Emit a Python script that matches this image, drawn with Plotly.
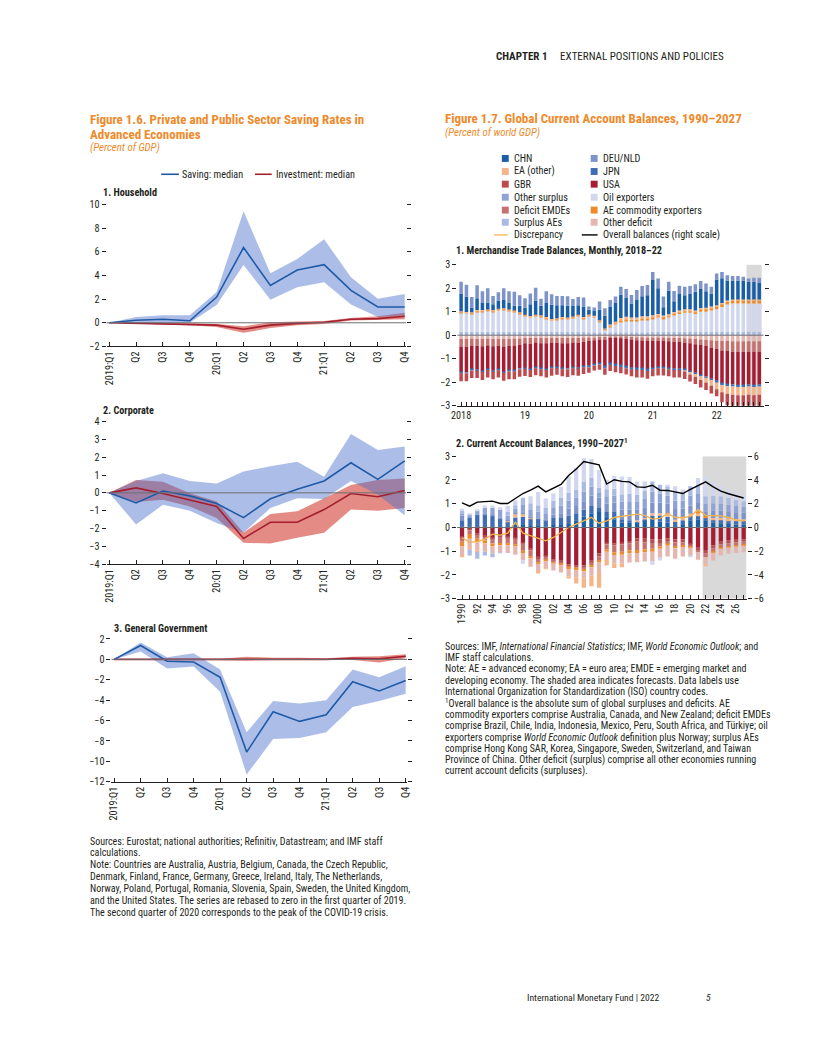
import plotly.graph_objects as go

# The page body keeps the browser's default 8 px margin, so the figure is drawn 8 px in
# from the top-left corner; positions below are given in page pixels and converted.
OFF = 8
W, H = 800, 1036
def fx(px):
    return (px - OFF) / W
def fy(py):
    return 1 - (py - OFF) / H

FONT = "Liberation Sans Narrow, Roboto Condensed, DejaVu Sans Condensed, Arial Narrow, sans-serif"
ORANGE = "#EE8A2A"
TXT = "#231F20"
GRAY0 = "#6D6E71"

# ---------------- Figure 1.6 data ----------------
quarters = ["2019:Q1", "Q2", "Q3", "Q4", "20:Q1", "Q2", "Q3", "Q4", "21:Q1", "Q2", "Q3", "Q4"]

hh_sav_med = [0, 0.22, 0.30, 0.17, 2.18, 6.37, 3.16, 4.47, 4.92, 2.74, 1.34, 1.34]
hh_sav_hi = [0, 0.50, 0.64, 0.64, 2.60, 9.44, 4.20, 5.40, 7.07, 3.85, 2.04, 2.43]
hh_sav_lo = [0, -0.10, -0.08, 0.00, 1.50, 4.90, 1.95, 3.00, 3.44, 1.54, 0.50, 0.64]
hh_inv_med = [0, -0.05, -0.08, -0.12, -0.20, -0.55, -0.20, -0.05, 0.05, 0.30, 0.35, 0.55]
hh_inv_hi = [0, 0.02, 0.00, -0.03, -0.10, -0.30, 0.05, 0.10, 0.15, 0.40, 0.55, 0.85]
hh_inv_lo = [0, -0.10, -0.15, -0.20, -0.35, -0.85, -0.45, -0.20, -0.10, 0.20, 0.25, 0.30]

co_sav_med = [0, -0.57, 0.10, -0.17, -0.60, -1.39, -0.33, 0.20, 0.67, 1.69, 0.76, 1.80]
co_sav_hi = [0, 0.67, 1.10, 0.67, 0.52, 1.20, 1.50, 1.74, 0.90, 3.30, 2.40, 2.60]
co_sav_lo = [0, -1.78, -0.67, -1.00, -1.69, -2.24, -0.85, -0.31, -0.35, 0.67, -0.10, -1.26]
co_inv_med = [0, 0.28, -0.04, -0.39, -0.76, -2.56, -1.65, -1.65, -0.94, -0.04, -0.22, 0.13]
co_inv_hi = [0, 0.72, 0.63, -0.02, -0.48, -2.24, -1.19, -1.04, -0.30, 0.44, 0.72, 0.81]
co_inv_lo = [0, -0.52, -0.39, -0.76, -1.41, -2.80, -2.85, -2.52, -2.24, -0.94, -1.00, -0.85]

gg_sav_med = [0, 1.36, -0.19, -0.26, -1.75, -9.09, -5.14, -6.08, -5.43, -2.20, -3.10, -2.07]
gg_sav_hi = [0, 1.65, 0.20, 0.61, -1.00, -7.15, -4.07, -4.33, -4.00, -1.00, -1.75, -0.68]
gg_sav_lo = [0, 0.78, -0.90, -0.71, -3.17, -11.30, -7.82, -7.72, -7.15, -4.66, -4.07, -3.36]
gg_inv_med = [0, 0.00, 0.00, 0.00, 0.00, 0.00, 0.05, 0.05, 0.00, 0.10, 0.05, 0.30]
gg_inv_hi = [0, 0.05, 0.05, 0.05, 0.05, 0.25, 0.15, 0.15, 0.10, 0.25, 0.30, 0.50]
gg_inv_lo = [0, -0.05, -0.05, -0.05, -0.10, -0.10, -0.05, -0.05, -0.10, -0.05, -0.30, 0.10]

# ---------------- Figure 1.7 panel 1 data (monthly, Jan 2018 - Sep 2022) ----------------
month_labels = ["2018", "", "", "", "", "", "", "", "", "", "", "",
                "19", "", "", "", "", "", "", "", "", "", "", "",
                "20", "", "", "", "", "", "", "", "", "", "", "",
                "21", "", "", "", "", "", "", "", "", "", "", "",
                "22", "", "", "", "", "", "", "", ""]

m_surplus_aes = [0.15, 0.15, 0.15, 0.15, 0.15, 0.15, 0.15, 0.15, 0.15, 0.15, 0.15, 0.15,
                 0.15, 0.15, 0.15, 0.15, 0.15, 0.15, 0.15, 0.15, 0.15, 0.15, 0.15, 0.15,
                 0.12, 0.12, 0.12, 0.12, 0.12, 0.12, 0.12, 0.12, 0.12, 0.12, 0.12, 0.12,
                 0.15, 0.15, 0.15, 0.15, 0.15, 0.15, 0.15, 0.15, 0.15, 0.15, 0.15, 0.15,
                 0.15, 0.15, 0.15, 0.15, 0.15, 0.15, 0.15, 0.15, 0.15]
m_oil = [0.80, 0.77, 0.75, 0.85, 0.85, 0.87, 0.85, 0.90, 0.93, 0.87, 0.83, 0.75,
         0.65, 0.60, 0.65, 0.63, 0.55, 0.47, 0.50, 0.55, 0.53, 0.57, 0.65, 0.55,
         0.68, 0.63, 0.43, 0.08, 0.23, 0.33, 0.43, 0.48, 0.48, 0.48, 0.53, 0.53,
         0.55, 0.60, 0.55, 0.60, 0.70, 0.75, 0.80, 0.80, 0.75, 0.85, 0.85, 0.90,
         0.95, 1.05, 1.15, 1.20, 1.20, 1.20, 1.20, 1.20, 1.20]
m_aecomm_pos = [0.04, 0.04, 0.04, 0.04, 0.04, 0.04, 0.04, 0.04, 0.04, 0.04, 0.04, 0.04,
                0.04, 0.04, 0.04, 0.04, 0.04, 0.04, 0.04, 0.04, 0.04, 0.04, 0.04, 0.04,
                0.04, 0.04, 0.04, 0.04, 0.05, 0.06, 0.08, 0.08, 0.07, 0.07, 0.07, 0.07,
                0.08, 0.08, 0.08, 0.08, 0.08, 0.09, 0.09, 0.09, 0.09, 0.10, 0.11, 0.11,
                0.13, 0.13, 0.13, 0.13, 0.13, 0.13, 0.13, 0.13, 0.13]
m_ea_pos = [0.03, 0.03, 0.03, 0.03, 0.03, 0.03, 0.03, 0.03, 0.03, 0.03, 0.03, 0.03,
            0.03, 0.03, 0.03, 0.03, 0.03, 0.03, 0.03, 0.03, 0.03, 0.03, 0.03, 0.03,
            0.04, 0.04, 0.04, 0.04, 0.05, 0.06, 0.10, 0.10, 0.08, 0.08, 0.08, 0.08,
            0.07, 0.07, 0.06, 0.06, 0.06, 0.06, 0.06, 0.06, 0.06, 0.06, 0.06, 0.06,
            0.04, 0.04, 0.04, 0.04, 0.04, 0.04, 0.04, 0.04, 0.04]
m_chn = [0.75, 0.65, 0.20, 0.50, 0.30, 0.30, 0.25, 0.35, 0.35, 0.28, 0.20, 0.28,
         0.30, 0.50, 0.60, 0.40, 0.60, 0.60, 0.55, 0.50, 0.50, 0.45, 0.40, 0.45,
         0.20, 0.20, 0.45, 0.55, 0.75, 0.80, 1.00, 0.80, 0.60, 0.75, 0.85, 0.90,
         1.50, 1.10, 0.35, 1.00, 0.45, 0.70, 0.60, 0.65, 0.80, 0.80, 0.70, 0.55,
         1.10, 1.05, 0.85, 0.80, 0.80, 0.80, 0.75, 0.75, 0.72]
m_deu = [0.50, 0.50, 0.45, 0.55, 0.50, 0.60, 0.35, 0.35, 0.50, 0.50, 0.60, 0.45,
         0.40, 0.45, 0.55, 0.30, 0.50, 0.45, 0.40, 0.40, 0.40, 0.30, 0.35, 0.38,
         0.14, 0.15, 0.35, 0.32, 0.30, 0.27, 0.33, 0.38, 0.36, 0.42, 0.44, 0.43,
         0.34, 0.41, 0.45, 0.38, 0.44, 0.35, 0.36, 0.34, 0.31, 0.34, 0.33, 0.29,
         0.25, 0.27, 0.23, 0.20, 0.20, 0.16, 0.14, 0.17, 0.20]
m_other_def = [-0.15, -0.16, -0.14, -0.15, -0.15, -0.14, -0.15, -0.15, -0.16, -0.15, -0.14, -0.14,
               -0.12, -0.12, -0.11, -0.12, -0.12, -0.11, -0.12, -0.12, -0.12, -0.11, -0.12, -0.10,
               -0.10, -0.10, -0.08, -0.08, -0.07, -0.07, -0.07, -0.08, -0.08, -0.09, -0.09, -0.10,
               -0.10, -0.10, -0.10, -0.11, -0.12, -0.12, -0.13, -0.14, -0.16, -0.18, -0.20, -0.22,
               -0.24, -0.25, -0.25, -0.26, -0.26, -0.26, -0.26, -0.26, -0.26]
m_def_emde = [-0.33, -0.33, -0.30, -0.30, -0.32, -0.30, -0.32, -0.30, -0.32, -0.30, -0.30, -0.28,
              -0.22, -0.24, -0.20, -0.22, -0.22, -0.20, -0.20, -0.22, -0.22, -0.20, -0.20, -0.18,
              -0.15, -0.12, -0.10, -0.10, -0.05, -0.05, -0.06, -0.08, -0.10, -0.12, -0.14, -0.15,
              -0.15, -0.14, -0.14, -0.15, -0.16, -0.16, -0.18, -0.20, -0.22, -0.24, -0.26, -0.30,
              -0.35, -0.40, -0.42, -0.44, -0.44, -0.44, -0.44, -0.44, -0.44]
m_usa = [-1.10, -1.10, -1.02, -1.02, -1.05, -1.00, -1.04, -1.00, -1.08, -1.05, -1.05, -1.00,
         -1.05, -1.08, -1.05, -1.07, -1.10, -1.06, -1.03, -1.07, -1.08, -1.05, -1.06, -1.04,
         -1.05, -1.00, -1.00, -1.15, -1.08, -1.12, -1.15, -1.17, -1.20, -1.20, -1.18, -1.20,
         -1.15, -1.12, -1.12, -1.14, -1.15, -1.15, -1.15, -1.20, -1.22, -1.28, -1.30, -1.33,
         -1.35, -1.40, -1.42, -1.40, -1.42, -1.42, -1.40, -1.42, -1.40]
m_jpn_neg = [-0.04, -0.04, -0.04, -0.04, -0.04, -0.04, -0.04, -0.04, -0.04, -0.04, -0.04, -0.04,
             -0.04, -0.04, -0.04, -0.04, -0.04, -0.04, -0.04, -0.04, -0.04, -0.04, -0.04, -0.04,
             -0.07, -0.07, -0.07, -0.07, -0.07, -0.07, -0.07, -0.07, -0.07, -0.07, -0.07, -0.07,
             -0.05, -0.05, -0.05, -0.05, -0.05, -0.05, -0.05, -0.05, -0.05, -0.05, -0.05, -0.05,
             -0.08, -0.08, -0.08, -0.08, -0.08, -0.08, -0.08, -0.08, -0.08]
m_ea_neg = [0, 0, 0, 0, 0, 0, 0, 0, 0, 0, 0, 0,
            0, 0, 0, 0, 0, 0, 0, 0, 0, 0, 0, 0,
            0, 0, 0, 0, 0, 0, 0, 0, 0, 0, 0, 0,
            0, 0, 0, 0, 0, 0, -0.03, -0.08, -0.12, -0.15, -0.20, -0.25,
            -0.28, -0.30, -0.32, -0.35, -0.35, -0.35, -0.35, -0.35, -0.35]
m_gbr = [-0.34, -0.33, -0.32, -0.31, -0.34, -0.32, -0.32, -0.31, -0.34, -0.33, -0.34, -0.31,
         -0.30, -0.30, -0.30, -0.30, -0.32, -0.31, -0.29, -0.30, -0.32, -0.30, -0.30, -0.29,
         -0.23, -0.21, -0.22, -0.28, -0.25, -0.26, -0.27, -0.27, -0.30, -0.32, -0.32, -0.33,
         -0.30, -0.30, -0.30, -0.30, -0.32, -0.32, -0.32, -0.30, -0.30, -0.32, -0.32, -0.33,
         -0.30, -0.42, -0.50, -0.60, -0.60, -0.60, -0.60, -0.60, -0.60]

# ---------------- Figure 1.7 panel 2 data (annual, 1990-2027) ----------------
years = [1990, 1991, 1992, 1993, 1994, 1995, 1996, 1997, 1998, 1999,
         2000, 2001, 2002, 2003, 2004, 2005, 2006, 2007, 2008, 2009,
         2010, 2011, 2012, 2013, 2014, 2015, 2016, 2017, 2018, 2019,
         2020, 2021, 2022, 2023, 2024, 2025, 2026, 2027]
year_labels = ["1990", "", "92", "", "94", "", "96", "", "98", "",
               "2000", "", "02", "", "04", "", "06", "", "08", "",
               "10", "", "12", "", "14", "", "16", "", "18", "",
               "20", "", "22", "", "24", "", "26", ""]

ca_chn = [0.05, 0.05, 0.03, 0.00, 0.03, 0.03, 0.03, 0.12, 0.10, 0.06,
          0.06, 0.05, 0.10, 0.10, 0.15, 0.30, 0.45, 0.60, 0.65, 0.40,
          0.35, 0.20, 0.20, 0.20, 0.30, 0.40, 0.25, 0.20, 0.03, 0.10,
          0.30, 0.35, 0.30, 0.20, 0.18, 0.15, 0.13, 0.12]
ca_jpn = [0.25, 0.35, 0.50, 0.55, 0.45, 0.35, 0.20, 0.30, 0.35, 0.30,
          0.30, 0.25, 0.30, 0.30, 0.35, 0.30, 0.30, 0.30, 0.20, 0.25,
          0.30, 0.15, 0.10, 0.05, 0.05, 0.10, 0.25, 0.25, 0.20, 0.20,
          0.18, 0.15, 0.10, 0.12, 0.15, 0.15, 0.15, 0.15]
ca_ea_pos = [0, 0, 0, 0, 0, 0, 0.05, 0.15, 0.12, 0.05,
             0, 0, 0, 0, 0, 0, 0, 0, 0, 0,
             0, 0, 0, 0.05, 0.05, 0.10, 0.10, 0.10, 0.10, 0.10,
             0.10, 0.08, 0, 0.08, 0.08, 0.08, 0.08, 0.08]
ca_aecomm_pos = [0, 0, 0, 0, 0, 0, 0, 0, 0, 0,
                 0, 0, 0, 0, 0, 0, 0, 0, 0, 0,
                 0, 0, 0, 0, 0, 0, 0, 0, 0, 0,
                 0, 0.10, 0.08, 0, 0, 0, 0, 0]
ca_deu = [0.20, 0.00, 0.02, 0.05, 0.05, 0.05, 0.05, 0.05, 0.05, 0.05,
          0.02, 0.05, 0.15, 0.20, 0.30, 0.30, 0.35, 0.45, 0.40, 0.35,
          0.40, 0.40, 0.45, 0.45, 0.45, 0.45, 0.45, 0.45, 0.45, 0.40,
          0.35, 0.35, 0.20, 0.30, 0.30, 0.30, 0.28, 0.27]
ca_other_surplus = [0.10, 0.15, 0.16, 0.23, 0.30, 0.32, 0.17, 0.17, 0.33, 0.28,
                    0.28, 0.25, 0.30, 0.33, 0.33, 0.35, 0.42, 0.38, 0.23, 0.31,
                    0.30, 0.33, 0.35, 0.32, 0.35, 0.45, 0.38, 0.35, 0.36, 0.33,
                    0.42, 0.38, 0.33, 0.32, 0.30, 0.29, 0.26, 0.24]
ca_surplus_aes = [0.09, 0, 0, 0, 0, 0, 0.15, 0.15, 0.30, 0.28,
                  0.28, 0.22, 0.28, 0.33, 0.32, 0.35, 0.40, 0.35, 0.20, 0.30,
                  0.28, 0.32, 0.33, 0.32, 0.34, 0.44, 0.37, 0.35, 0.35, 0.32,
                  0.39, 0.37, 0.30, 0.32, 0.30, 0.28, 0.26, 0.24]
ca_oil_pos = [0.10, 0.05, 0.05, 0.10, 0.10, 0.10, 0.25, 0.20, 0, 0.30,
              0.55, 0.40, 0.30, 0.45, 0.70, 0.90, 1.00, 0.80, 0.75, 0.40,
              0.55, 0.75, 0.70, 0.55, 0.40, 0, 0, 0.10, 0.25, 0.15,
              0, 0.30, 0.85, 0.60, 0.45, 0.35, 0.30, 0.25]

ca_usa = [-0.40, -0.05, -0.25, -0.35, -0.45, -0.35, -0.40, -0.45, -0.65, -0.90,
          -1.25, -1.20, -1.35, -1.40, -1.55, -1.60, -1.60, -1.40, -1.10, -0.65,
          -0.68, -0.65, -0.57, -0.45, -0.47, -0.50, -0.50, -0.45, -0.50, -0.50,
          -0.70, -0.85, -0.95, -0.75, -0.60, -0.55, -0.52, -0.50]
ca_gbr = [-0.08, -0.07, -0.07, -0.05, -0.04, -0.05, -0.03, -0.02, -0.03, -0.07,
          -0.08, -0.07, -0.07, -0.10, -0.10, -0.08, -0.10, -0.10, -0.12, -0.07,
          -0.08, -0.07, -0.10, -0.15, -0.15, -0.15, -0.15, -0.12, -0.13, -0.12,
          -0.08, -0.10, -0.15, -0.13, -0.12, -0.11, -0.10, -0.10]
ca_def_emde = [-0.12, -0.15, -0.15, -0.15, -0.18, -0.25, -0.25, -0.25, -0.30, -0.25,
               -0.15, -0.10, -0.05, -0.03, -0.02, -0.02, -0.04, -0.08, -0.15, -0.20,
               -0.28, -0.30, -0.30, -0.35, -0.30, -0.25, -0.15, -0.13, -0.18, -0.15,
               -0.05, -0.10, -0.15, -0.15, -0.15, -0.15, -0.15, -0.14]
ca_aecomm_neg = [-0.20, -0.20, -0.15, -0.12, -0.12, -0.10, -0.07, -0.08, -0.10, -0.08,
                 -0.05, -0.05, -0.04, -0.05, -0.08, -0.10, -0.10, -0.10, -0.10, -0.10,
                 -0.12, -0.13, -0.12, -0.13, -0.12, -0.12, -0.10, -0.07, -0.07, -0.05,
                 -0.02, 0, 0, -0.03, -0.03, -0.03, -0.03, -0.03]
ca_other_def = [-0.40, -0.35, -0.35, -0.35, -0.30, -0.30, -0.33, -0.35, -0.30, -0.35,
                -0.35, -0.30, -0.30, -0.32, -0.30, -0.30, -0.30, -0.35, -0.45, -0.35,
                -0.35, -0.37, -0.38, -0.38, -0.39, -0.40, -0.37, -0.45, -0.44, -0.40,
                -0.35, -0.31, -0.30, -0.33, -0.28, -0.27, -0.27, -0.27]
ca_ea_neg = [-0.05, -0.10, -0.05, 0, 0, 0, 0, 0, 0, 0,
             -0.06, -0.02, 0, 0, -0.10, -0.26, -0.40, -0.44, -0.62, -0.23,
             -0.20, -0.15, 0, 0, 0, 0, 0, 0, 0, 0,
             0, 0, -0.08, 0, 0, 0, 0, 0]
ca_surplus_aes_neg = [0, -0.26, -0.30, -0.16, -0.16, -0.03, 0, 0, 0, 0,
                      0, 0, 0, 0, 0, 0, 0, 0, 0, 0,
                      0, 0, 0, 0, 0, 0, 0, 0, 0, 0,
                      0, 0, 0, 0, 0, 0, 0, 0]
ca_oil_neg = [0, 0, 0, 0, 0, 0, 0, 0, -0.15, 0,
              0, 0, 0, 0, 0, 0, 0, 0, 0, 0,
              0, 0, 0, 0, 0, -0.15, -0.12, 0, 0, 0,
              -0.05, 0, 0, 0, 0, 0, 0, 0]

ca_discrepancy = [-0.42, -0.63, -0.60, -0.49, -0.28, -0.32, -0.24, 0.22, -0.24, -0.35,
                  -0.46, -0.56, -0.42, -0.21, 0.00, 0.14, 0.28, 0.42, 0.18, 0.28,
                  0.42, 0.46, 0.51, 0.56, 0.51, 0.35, 0.38, 0.60, 0.42, 0.42,
                  0.46, 0.76, 0.51, 0.51, 0.49, 0.42, 0.32, 0.28]
ca_overall = [2.08, 1.80, 2.14, 2.20, 2.22, 2.02, 2.02, 2.44, 2.86, 3.14,
              3.48, 3.00, 3.34, 3.62, 4.38, 4.92, 5.56, 5.42, 5.28, 3.66,
              4.02, 3.88, 3.84, 3.42, 3.38, 3.56, 3.14, 3.12, 2.98, 2.86,
              3.20, 3.52, 3.84, 3.42, 3.06, 2.84, 2.64, 2.48]

# ---------------- colours ----------------
C = {
    "CHN": "#1A5EA8", "DEU/NLD": "#7D93C9", "EA (other)": "#F6B489", "JPN": "#3F6DB5",
    "GBR": "#BE4A4E", "USA": "#A51D33", "Other surplus": "#8FA3D6", "Oil exporters": "#D0D7EE",
    "Deficit EMDEs": "#C7716E", "AE commodity exporters": "#EF8A2C", "Surplus AEs": "#AABAE2",
    "Other deficit": "#E5B6AF", "Discrepancy": "#F2B54C",
}
BLUE_LINE = "#1F5AA6"
RED_LINE = "#A51E2E"
BLUE_BAND = "rgba(70,110,205,0.45)"
RED_BAND = "rgba(215,90,80,0.70)"

fig = go.Figure()

# ---------------- Figure 1.6 panels ----------------
xq = list(range(len(quarters)))
panels = [
    ("x", "y", hh_sav_med, hh_sav_hi, hh_sav_lo, hh_inv_med, hh_inv_hi, hh_inv_lo),
    ("x2", "y2", co_sav_med, co_sav_hi, co_sav_lo, co_inv_med, co_inv_hi, co_inv_lo),
    ("x3", "y3", gg_sav_med, gg_sav_hi, gg_sav_lo, gg_inv_med, gg_inv_hi, gg_inv_lo),
]
for xa, ya, sm, sh, sl, im, ih, il in panels:
    fig.add_trace(go.Scatter(x=xq, y=il, mode="lines", line=dict(width=0), xaxis=xa, yaxis=ya,
                             showlegend=False, hoverinfo="skip"))
    fig.add_trace(go.Scatter(x=xq, y=ih, mode="lines", line=dict(width=0), fill="tonexty",
                             fillcolor=RED_BAND, xaxis=xa, yaxis=ya, showlegend=False, hoverinfo="skip"))
    fig.add_trace(go.Scatter(x=xq, y=sl, mode="lines", line=dict(width=0), xaxis=xa, yaxis=ya,
                             showlegend=False, hoverinfo="skip"))
    fig.add_trace(go.Scatter(x=xq, y=sh, mode="lines", line=dict(width=0), fill="tonexty",
                             fillcolor=BLUE_BAND, xaxis=xa, yaxis=ya, showlegend=False, hoverinfo="skip"))
    fig.add_trace(go.Scatter(x=xq, y=im, mode="lines", line=dict(color=RED_LINE, width=1.6),
                             xaxis=xa, yaxis=ya, showlegend=False))
    fig.add_trace(go.Scatter(x=xq, y=sm, mode="lines", line=dict(color=BLUE_LINE, width=1.6),
                             xaxis=xa, yaxis=ya, showlegend=False))

# ---------------- Figure 1.7 panel 1: merchandise ----------------
xm = list(range(len(month_labels)))
merch = [
    (m_surplus_aes, "Surplus AEs"), (m_oil, "Oil exporters"), (m_aecomm_pos, "AE commodity exporters"),
    (m_ea_pos, "EA (other)"), (m_chn, "CHN"), (m_deu, "DEU/NLD"),
    (m_other_def, "Other deficit"), (m_def_emde, "Deficit EMDEs"), (m_usa, "USA"),
    (m_jpn_neg, "JPN"), (m_ea_neg, "EA (other)"), (m_gbr, "GBR"),
]
for vals, name in merch:
    fig.add_trace(go.Bar(x=xm, y=vals, name=name, marker=dict(color=C[name], line=dict(width=0)),
                         width=0.66, xaxis="x4", yaxis="y4", showlegend=False))

# ---------------- Figure 1.7 panel 2: current account ----------------
ca = [
    (ca_chn, "CHN"), (ca_jpn, "JPN"), (ca_ea_pos, "EA (other)"), (ca_aecomm_pos, "AE commodity exporters"),
    (ca_deu, "DEU/NLD"), (ca_other_surplus, "Other surplus"), (ca_surplus_aes, "Surplus AEs"),
    (ca_oil_pos, "Oil exporters"),
    (ca_usa, "USA"), (ca_gbr, "GBR"), (ca_def_emde, "Deficit EMDEs"), (ca_aecomm_neg, "AE commodity exporters"),
    (ca_other_def, "Other deficit"), (ca_ea_neg, "EA (other)"), (ca_surplus_aes_neg, "Surplus AEs"),
    (ca_oil_neg, "Oil exporters"),
]
for vals, name in ca:
    fig.add_trace(go.Bar(x=years, y=vals, name=name, marker=dict(color=C[name], line=dict(width=0)),
                         width=0.56, xaxis="x5", yaxis="y5", showlegend=False))
fig.add_trace(go.Scatter(x=years, y=ca_discrepancy, mode="lines", line=dict(color=C["Discrepancy"], width=1.3),
                         xaxis="x5", yaxis="y5", showlegend=False))
fig.add_trace(go.Scatter(x=years, y=ca_overall, mode="lines", line=dict(color="black", width=1.4),
                         xaxis="x5", yaxis="y6", showlegend=False))

# ---------------- axes ----------------
tickfont = dict(family=FONT, size=10.2, color=TXT)

def yax(domain, rng, vals, anchor):
    return dict(domain=domain, range=rng, tickvals=vals, ticks="outside", ticklen=4, tickwidth=1,
                tickcolor=TXT, mirror="ticks", showline=False, showgrid=False, zeroline=False,
                tickfont=tickfont, anchor=anchor, fixedrange=True)

def xax(domain, rng, vals, text, anchor, angle):
    return dict(domain=domain, range=rng, tickvals=vals, ticktext=text, tickangle=angle, ticks="inside",
                ticklen=4, tickwidth=1, tickcolor=TXT, showline=True, linecolor=TXT, linewidth=1,
                showgrid=False, zeroline=False, tickfont=tickfont, anchor=anchor, fixedrange=True)

fig.update_layout(
    width=W, height=H, margin=dict(l=0, r=0, t=0, b=0),
    paper_bgcolor="white", plot_bgcolor="rgba(0,0,0,0)",
    barmode="relative", showlegend=False, font=dict(family=FONT, color=TXT),
    xaxis=xax([fx(101.7), fx(405)], [-0.1, 11.05], xq, quarters, "y", -90),
    yaxis=yax([fy(345), fy(201.7)], [-2, 10], [-2, 0, 2, 4, 6, 8, 10], "x"),
    xaxis2=xax([fx(101.7), fx(405)], [-0.1, 11.05], xq, quarters, "y2", -90),
    yaxis2=yax([fy(565), fy(421)], [-4, 4], [-4, -3, -2, -1, 0, 1, 2, 3, 4], "x2"),
    xaxis3=xax([fx(106.7), fx(406)], [-0.1, 11.05], xq, quarters, "y3", -90),
    yaxis3=yax([fy(785), fy(640.7)], [-12, 2], [-12, -10, -8, -6, -4, -2, 0, 2], "x3"),
    xaxis4=xax([fx(457), fx(767)], [-0.7, 56.8], xm, month_labels, "y4", 0),
    yaxis4=yax([fy(405), fy(262.3)], [-3, 3], [-3, -2, -1, 0, 1, 2, 3], "x4"),
    xaxis5=xax([fx(456.7), fx(750)], [1989.35, 2027.4], years, year_labels, "y5", -90),
    yaxis5=yax([fy(600), fy(456)], [-3, 3], [-3, -2, -1, 0, 1, 2, 3], "x5"),
    yaxis6=dict(overlaying="y5", side="right", range=[-6, 6], tickvals=[-6, -4, -2, 0, 2, 4, 6],
                ticks="outside", ticklen=4, tickwidth=1, tickcolor=TXT, showline=False, showgrid=False,
                zeroline=False, tickfont=tickfont, anchor="x5", fixedrange=True),
)
fig.update_layout(yaxis5=dict(mirror=False))

# forecast shading
fig.add_shape(type="rect", xref="x4", yref="y4", x0=53.6, x1=56.45, y0=-3, y1=3,
              fillcolor="#D9D9D9", line=dict(width=0), layer="below")
fig.add_shape(type="rect", xref="x5", yref="y5", x0=2021.6, x1=2027.35, y0=-3, y1=3,
              fillcolor="#D9D9D9", line=dict(width=0), layer="below")

# zero lines drawn over the marks
for xr, yr in [("x", "y"), ("x2", "y2"), ("x3", "y3"), ("x4", "y4"), ("x5", "y5")]:
    fig.add_shape(type="line", xref=xr + " domain", yref=yr, x0=0, x1=1, y0=0, y1=0,
                  line=dict(color=GRAY0, width=1), layer="above")

# ---------------- text ----------------
def ann(text, x, y, size=9, color=TXT, xanchor="left", yanchor="middle", bold=False, italic=False):
    if bold:
        text = "<b>" + text + "</b>"
    if italic:
        text = "<i>" + text + "</i>"
    fig.add_annotation(text=text, x=fx(x), y=fy(y), xref="paper", yref="paper", showarrow=False,
                       xanchor=xanchor, yanchor=yanchor, align="left", borderpad=0,
                       font=dict(family=FONT, size=size, color=color))

# header / footer
ann("<b>CHAPTER 1</b>     EXTERNAL POSITIONS AND POLICIES", 728, 52, size=11, xanchor="right")
ann("International Monetary Fund | 2022", 662, 1003, size=9.6, xanchor="right")
ann("5", 711, 1003, size=9.6, italic=True, xanchor="center")

# Figure 1.6 titles
ann("Figure 1.6. Private and Public Sector Saving Rates in", 84, 116, size=13, color=ORANGE, bold=True)
ann("Advanced Economies", 84, 130.5, size=13, color=ORANGE, bold=True)
ann("(Percent of GDP)", 84, 143.5, size=10.8, color=ORANGE, italic=True)

# Figure 1.6 legend
fig.add_shape(type="line", xref="paper", yref="paper", x0=fx(157), x1=fx(175), y0=fy(171), y1=fy(171),
              line=dict(color=BLUE_LINE, width=1.6))
ann("Saving: median", 177.5, 171, size=10.2)
fig.add_shape(type="line", xref="paper", yref="paper", x0=fx(252), x1=fx(269), y0=fy(171), y1=fy(171),
              line=dict(color=RED_LINE, width=1.6))
ann("Investment: median", 272, 171, size=10.2)

ann("1. Household", 97, 189, size=10.2, bold=True)
ann("2. Corporate", 97, 410, size=10.2, bold=True)
ann("3. General Government", 108, 630, size=10.2, bold=True)

left_notes = [
    "Sources: Eurostat; national authorities; Refinitiv, Datastream; and IMF staff",
    "calculations.",
    "Note: Countries are Australia, Austria, Belgium, Canada, the Czech Republic,",
    "Denmark, Finland, France, Germany, Greece, Ireland, Italy, The Netherlands,",
    "Norway, Poland, Portugal, Romania, Slovenia, Spain, Sweden, the United Kingdom,",
    "and the United States. The series are rebased to zero in the first quarter of 2019.",
    "The second quarter of 2020 corresponds to the peak of the COVID-19 crisis.",
]
for i, line in enumerate(left_notes):
    ann(line, 84, 845 + i * 12.0, size=10)

# Figure 1.7 titles
ann("Figure 1.7. Global Current Account Balances, 1990–2027", 443, 115, size=13, color=ORANGE, bold=True)
ann("(Percent of world GDP)", 443, 129, size=10.8, color=ORANGE, italic=True)

legend_rows = [155, 168.2, 181, 194.2, 207.2, 219.5, 232.3]
col1 = ["CHN", "EA (other)", "GBR", "Other surplus", "Deficit EMDEs", "Surplus AEs"]
col2 = ["DEU/NLD", "JPN", "USA", "Oil exporters", "AE commodity exporters", "Other deficit"]
for i, name in enumerate(col1):
    y = legend_rows[i]
    fig.add_shape(type="rect", xref="paper", yref="paper", x0=fx(502), x1=fx(509), y0=fy(y + 3.5), y1=fy(y - 3.5),
                  fillcolor=C[name], line=dict(width=0))
    ann(name, 513, y, size=10.2)
for i, name in enumerate(col2):
    y = legend_rows[i]
    fig.add_shape(type="rect", xref="paper", yref="paper", x0=fx(592), x1=fx(599), y0=fy(y + 3.5), y1=fy(y - 3.5),
                  fillcolor=C[name], line=dict(width=0))
    ann(name, 603, y, size=10.2)
y = legend_rows[6]
fig.add_shape(type="line", xref="paper", yref="paper", x0=fx(494), x1=fx(508), y0=fy(y), y1=fy(y),
              line=dict(color=C["Discrepancy"], width=1.3))
ann("Discrepancy", 513, y, size=10.2)
fig.add_shape(type="line", xref="paper", yref="paper", x0=fx(583), x1=fx(599), y0=fy(y), y1=fy(y),
              line=dict(color="black", width=1.4))
ann("Overall balances (right scale)", 603, y, size=10.2)

ann("1. Merchandise Trade Balances, Monthly, 2018–22", 455, 249, size=10.2, bold=True)
ann("2. Current Account Balances, 1990–2027<sup>1</sup>", 455, 443, size=10.2, bold=True)

right_notes = [
    "Sources: IMF, <i>International Financial Statistics</i>; IMF, <i>World Economic Outlook</i>; and",
    "IMF staff calculations.",
    "Note: AE = advanced economy; EA = euro area; EMDE = emerging market and",
    "developing economy. The shaded area indicates forecasts. Data labels use",
    "International Organization for Standardization (ISO) country codes.",
    "<sup>1</sup>Overall balance is the absolute sum of global surpluses and deficits. AE",
    "commodity exporters comprise Australia, Canada, and New Zealand; deficit EMDEs",
    "comprise Brazil, Chile, India, Indonesia, Mexico, Peru, South Africa, and Türkiye; oil",
    "exporters comprise <i>World Economic Outlook</i> definition plus Norway; surplus AEs",
    "comprise Hong Kong SAR, Korea, Singapore, Sweden, Switzerland, and Taiwan",
    "Province of China. Other deficit (surplus) comprise all other economies running",
    "current account deficits (surpluses).",
]
for i, line in enumerate(right_notes):
    ann(line, 443, 648 + i * 11.5, size=10)

fig.write_html("out.html", config={"displayModeBar": False})
